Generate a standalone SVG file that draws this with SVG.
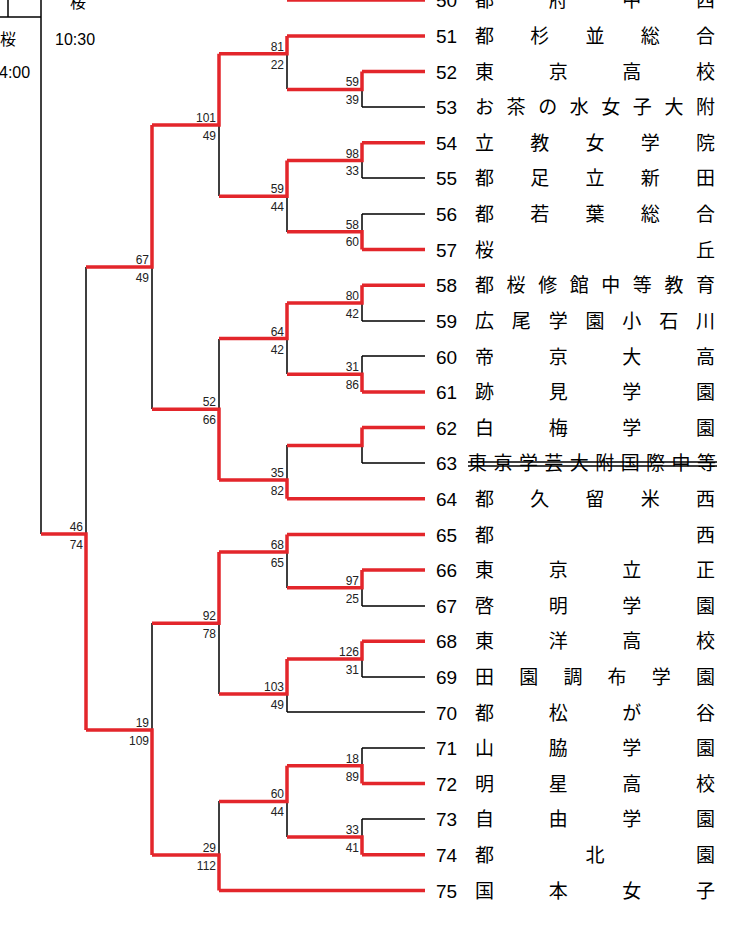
<svg xmlns="http://www.w3.org/2000/svg" width="749" height="938" viewBox="0 0 749 938">
<style>
.k{stroke:#000;stroke-width:1.5;fill:none}
.r{stroke:#e3262b;stroke-width:3.5;fill:none}
.s{font-family:"Liberation Sans",Arial,sans-serif;font-size:12px;fill:#222;text-anchor:end}
.n{font-family:"Liberation Sans",Arial,sans-serif;font-size:19px;fill:#000}
.j{font-family:"Noto Sans CJK JP","Liberation Sans",sans-serif;font-size:19px;fill:#000}
.l{font-family:"Liberation Sans","Noto Sans CJK JP",sans-serif;font-size:16px;fill:#000}
</style>
<rect width="749" height="938" fill="#fff"/>
<g id="header">
<line class="k" x1="41" y1="0" x2="41" y2="534"/>
<line class="k" x1="8" y1="0" x2="8" y2="17"/>
<line class="k" x1="0" y1="17" x2="41" y2="17"/>
<text class="l" x="70" y="8">桜</text>
<text class="l" x="55" y="45">10:30</text>
<text class="l" x="0" y="45">桜</text>
<text class="l" x="-1" y="78">4:00</text>
</g>
<g id="connectors">
<path class="k" d="M362,89V107M362,161V178M362,214V232M362,303V321M362,356V374M362,445V463M362,588V606M362,659V677M362,748V766M362,819V837M287,54V89M287,196V232M287,339V374M287,445V480M287,552V588M287,694V712M287,801V837M219,125V196M219,339V409M219,623V694M219,801V855M152,267V409M152,623V730M86,267V534"/>
<path class="k" d="M362,107H425M362,178H425M362,214H425M362,321H425M362,356H425M362,463H425M362,606H425M362,677H425M287,712H425M362,748H425M362,819H425"/>
<path class="r" d="M287,0H425M362,71.6H425M362,142.8H425M362,249.6H425M362,285.2H425M362,392H425M362,427.6H425M362,570H425M362,641.2H425M362,783.6H425M362,854.8H425M287,36H425M287,498.8H425M287,534.4H425M219,890.4H425
M362,71.6V89.4H287M362,142.8V160.6H287M362,249.6V231.8H287M362,285.2V303H287M362,392V374.2H287M362,427.6V445.4H287M362,570V587.8H287M362,641.2V659H287M362,783.6V765.8H287M362,854.8V837H287
M287,36V53.8H219M287,160.6V196.2H219M287,303V338.6H219M287,498.8V480H219M287,534.4V552H219M287,659V694H219M287,765.8V801.4H219
M219,53.8V125H152M219,480V409.3H152M219,552V623.3H152M219,890.4V855H152
M152,125V267H86M152,855V730H86
M86,730V534H41"/>
</g>
<g id="scores">
<text class="s" x="359" y="86">59</text><text class="s" x="359" y="104">39</text>
<text class="s" x="359" y="158">98</text><text class="s" x="359" y="175">33</text>
<text class="s" x="359" y="229">58</text><text class="s" x="359" y="246">60</text>
<text class="s" x="359" y="300">80</text><text class="s" x="359" y="318">42</text>
<text class="s" x="359" y="371">31</text><text class="s" x="359" y="389">86</text>
<text class="s" x="359" y="585">97</text><text class="s" x="359" y="603">25</text>
<text class="s" x="359" y="656">126</text><text class="s" x="359" y="674">31</text>
<text class="s" x="359" y="763">18</text><text class="s" x="359" y="781">89</text>
<text class="s" x="359" y="834">33</text><text class="s" x="359" y="852">41</text>
<text class="s" x="284" y="51">81</text><text class="s" x="284" y="69">22</text>
<text class="s" x="284" y="193">59</text><text class="s" x="284" y="211">44</text>
<text class="s" x="284" y="336">64</text><text class="s" x="284" y="354">42</text>
<text class="s" x="284" y="477">35</text><text class="s" x="284" y="495">82</text>
<text class="s" x="284" y="549">68</text><text class="s" x="284" y="567">65</text>
<text class="s" x="284" y="691">103</text><text class="s" x="284" y="709">49</text>
<text class="s" x="284" y="798">60</text><text class="s" x="284" y="816">44</text>
<text class="s" x="216" y="122">101</text><text class="s" x="216" y="140">49</text>
<text class="s" x="216" y="406">52</text><text class="s" x="216" y="424">66</text>
<text class="s" x="216" y="620">92</text><text class="s" x="216" y="638">78</text>
<text class="s" x="216" y="852">29</text><text class="s" x="216" y="870">112</text>
<text class="s" x="149" y="264">67</text><text class="s" x="149" y="282">49</text>
<text class="s" x="149" y="727">19</text><text class="s" x="149" y="745">109</text>
<text class="s" x="83" y="531">46</text><text class="s" x="83" y="549">74</text>
</g>
<g id="teams">
<text class="n" x="436" y="7">50</text><text class="j" x="475" y="7" textLength="240" lengthAdjust="spacing">都府中西</text>
<text class="n" x="436" y="43">51</text><text class="j" x="475" y="43" textLength="240" lengthAdjust="spacing">都杉並総合</text>
<text class="n" x="436" y="79">52</text><text class="j" x="475" y="79" textLength="240" lengthAdjust="spacing">東京高校</text>
<text class="n" x="436" y="114">53</text><text class="j" x="475" y="114" textLength="240" lengthAdjust="spacing">お茶の水女子大附</text>
<text class="n" x="436" y="150">54</text><text class="j" x="475" y="150" textLength="240" lengthAdjust="spacing">立教女学院</text>
<text class="n" x="436" y="185">55</text><text class="j" x="475" y="185" textLength="240" lengthAdjust="spacing">都足立新田</text>
<text class="n" x="436" y="221">56</text><text class="j" x="475" y="221" textLength="240" lengthAdjust="spacing">都若葉総合</text>
<text class="n" x="436" y="257">57</text><text class="j" x="475" y="257" textLength="240" lengthAdjust="spacing">桜丘</text>
<text class="n" x="436" y="292">58</text><text class="j" x="475" y="292" textLength="240" lengthAdjust="spacing">都桜修館中等教育</text>
<text class="n" x="436" y="328">59</text><text class="j" x="475" y="328" textLength="240" lengthAdjust="spacing">広尾学園小石川</text>
<text class="n" x="436" y="364">60</text><text class="j" x="475" y="364" textLength="240" lengthAdjust="spacing">帝京大高</text>
<text class="n" x="436" y="399">61</text><text class="j" x="475" y="399" textLength="240" lengthAdjust="spacing">跡見学園</text>
<text class="n" x="436" y="435">62</text><text class="j" x="475" y="435" textLength="240" lengthAdjust="spacing">白梅学園</text>
<text class="n" x="436" y="470">63</text><text class="j" x="468" y="470" textLength="248" lengthAdjust="spacing">東京学芸大附国際中等</text>
<text class="n" x="436" y="506">64</text><text class="j" x="475" y="506" textLength="240" lengthAdjust="spacing">都久留米西</text>
<text class="n" x="436" y="542">65</text><text class="j" x="475" y="542" textLength="240" lengthAdjust="spacing">都西</text>
<text class="n" x="436" y="577">66</text><text class="j" x="475" y="577" textLength="240" lengthAdjust="spacing">東京立正</text>
<text class="n" x="436" y="613">67</text><text class="j" x="475" y="613" textLength="240" lengthAdjust="spacing">啓明学園</text>
<text class="n" x="436" y="648">68</text><text class="j" x="475" y="648" textLength="240" lengthAdjust="spacing">東洋高校</text>
<text class="n" x="436" y="684">69</text><text class="j" x="475" y="684" textLength="240" lengthAdjust="spacing">田園調布学園</text>
<text class="n" x="436" y="720">70</text><text class="j" x="475" y="720" textLength="240" lengthAdjust="spacing">都松が谷</text>
<text class="n" x="436" y="755">71</text><text class="j" x="475" y="755" textLength="240" lengthAdjust="spacing">山脇学園</text>
<text class="n" x="436" y="791">72</text><text class="j" x="475" y="791" textLength="240" lengthAdjust="spacing">明星高校</text>
<text class="n" x="436" y="826">73</text><text class="j" x="475" y="826" textLength="240" lengthAdjust="spacing">自由学園</text>
<text class="n" x="436" y="862">74</text><text class="j" x="475" y="862" textLength="240" lengthAdjust="spacing">都北園</text>
<text class="n" x="436" y="898">75</text><text class="j" x="475" y="898" textLength="240" lengthAdjust="spacing">国本女子</text>
<path class="k" d="M468,462H717M468,466H717"/>
</g>
</svg>
